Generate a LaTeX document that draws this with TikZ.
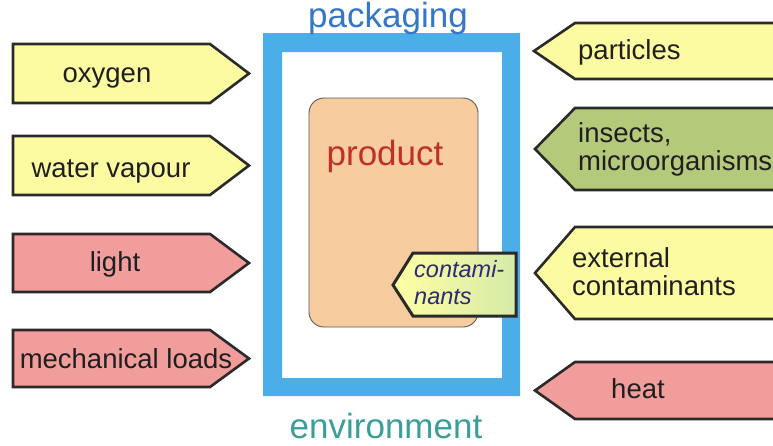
\documentclass[tikz,border=0pt]{standalone}
\usepackage{fontspec}
\setmainfont{Liberation Sans}
\definecolor{tagyellow}{HTML}{FDFBA2}
\definecolor{tagpink}{HTML}{F19D9C}
\definecolor{taggreen}{HTML}{B4CA7A}
\definecolor{tagedge}{HTML}{2A2A2A}
\definecolor{packblue}{HTML}{4BAEE8}
\definecolor{packtext}{HTML}{3576C6}
\definecolor{envtext}{HTML}{3B9E9A}
\definecolor{prodfill}{HTML}{F7CC9F}
\definecolor{prodtext}{HTML}{C0302A}
\definecolor{contfill}{HTML}{FFFFA4}
\definecolor{contfill2}{HTML}{D6EAA8}
\definecolor{conttext}{HTML}{2E2A70}
\tikzset{
  x=1pt, y=-1pt,
  tag/.style={draw=tagedge, line width=2.6pt, line join=miter},
  tagtext/.style={inner sep=0pt, anchor=base, font=\fontsize{27.5}{28}\selectfont, text=black!88},
  tagtextl/.style={tagtext, anchor=base west, align=left},
  bigtext/.style={inner sep=0pt, anchor=base, font=\fontsize{35}{36}\selectfont},
}
\begin{document}
\begin{tikzpicture}
\useasboundingbox (0,0) rectangle (773,445);
\begin{scope}
\clip (0,0) rectangle (773,445);

% packaging frame
\fill[packblue, even odd rule] (263,33) rectangle (520,396) (282,52) rectangle (502,378);

% product
\draw[fill=prodfill, draw=black!65, line width=0.9pt, rounded corners=15pt] (309,98) rectangle (478,327);
\node[bigtext, text=prodtext] (product) at (385,165) {product};

% contaminants inside the product (anchored at the baseline of the last line)
\draw[tag, line width=3pt, left color=contfill, right color=contfill2]
  (413,253) -- (516,253) -- (516,316) -- (413,316) -- (393,285) -- cycle;
\node[inner sep=0pt, anchor=base west, align=left, text=conttext,
      font=\itshape\fontsize{23.5}{27}\selectfont] (contam) at (414,304) {contami-\\nants};

% titles
\node[bigtext, text=packtext] (packaging) at (388,27) {packaging};
\node[bigtext, text=envtext] (environment) at (386,438) {environment};

% influences acting from the left
\draw[tag, fill=tagyellow] (13,44) -- (210,44) -- (249,73.5) -- (210,103) -- (13,103) -- cycle;
\node[tagtext] (oxygen) at (107,82) {oxygen};
\draw[tag, fill=tagyellow] (13,136) -- (210,136) -- (249,165.5) -- (210,195) -- (13,195) -- cycle;
\node[tagtext] (vapour) at (111,177) {water vapour};
\draw[tag, fill=tagpink] (13,234) -- (210,234) -- (249,263) -- (210,292) -- (13,292) -- cycle;
\node[tagtext] (light) at (115,271) {light};
\draw[tag, fill=tagpink] (13,330) -- (210,330) -- (249,358.5) -- (210,387) -- (13,387) -- cycle;
\node[tagtext] (loads) at (126,368) {mechanical loads};

% influences acting from the right
\draw[tag, fill=tagyellow] (790,23) -- (575,23) -- (534,51) -- (575,79) -- (790,79) -- cycle;
\node[tagtextl] (particles) at (578,59) {particles};
\draw[tag, fill=taggreen] (790,108) -- (575,108) -- (535,149) -- (575,190) -- (790,190) -- cycle;
\node[tagtextl] (insects) at (578,170) {insects,\\microorganisms};
\draw[tag, fill=tagyellow] (790,227) -- (575,227) -- (535,273) -- (575,319) -- (790,319) -- cycle;
\node[tagtextl] (external) at (572,295) {external\\contaminants};
\draw[tag, fill=tagpink] (790,362) -- (575,362) -- (535,390.5) -- (575,419) -- (790,419) -- cycle;
\node[tagtext] (heat) at (638,398) {heat};
\end{scope}
\end{tikzpicture}
\end{document}
